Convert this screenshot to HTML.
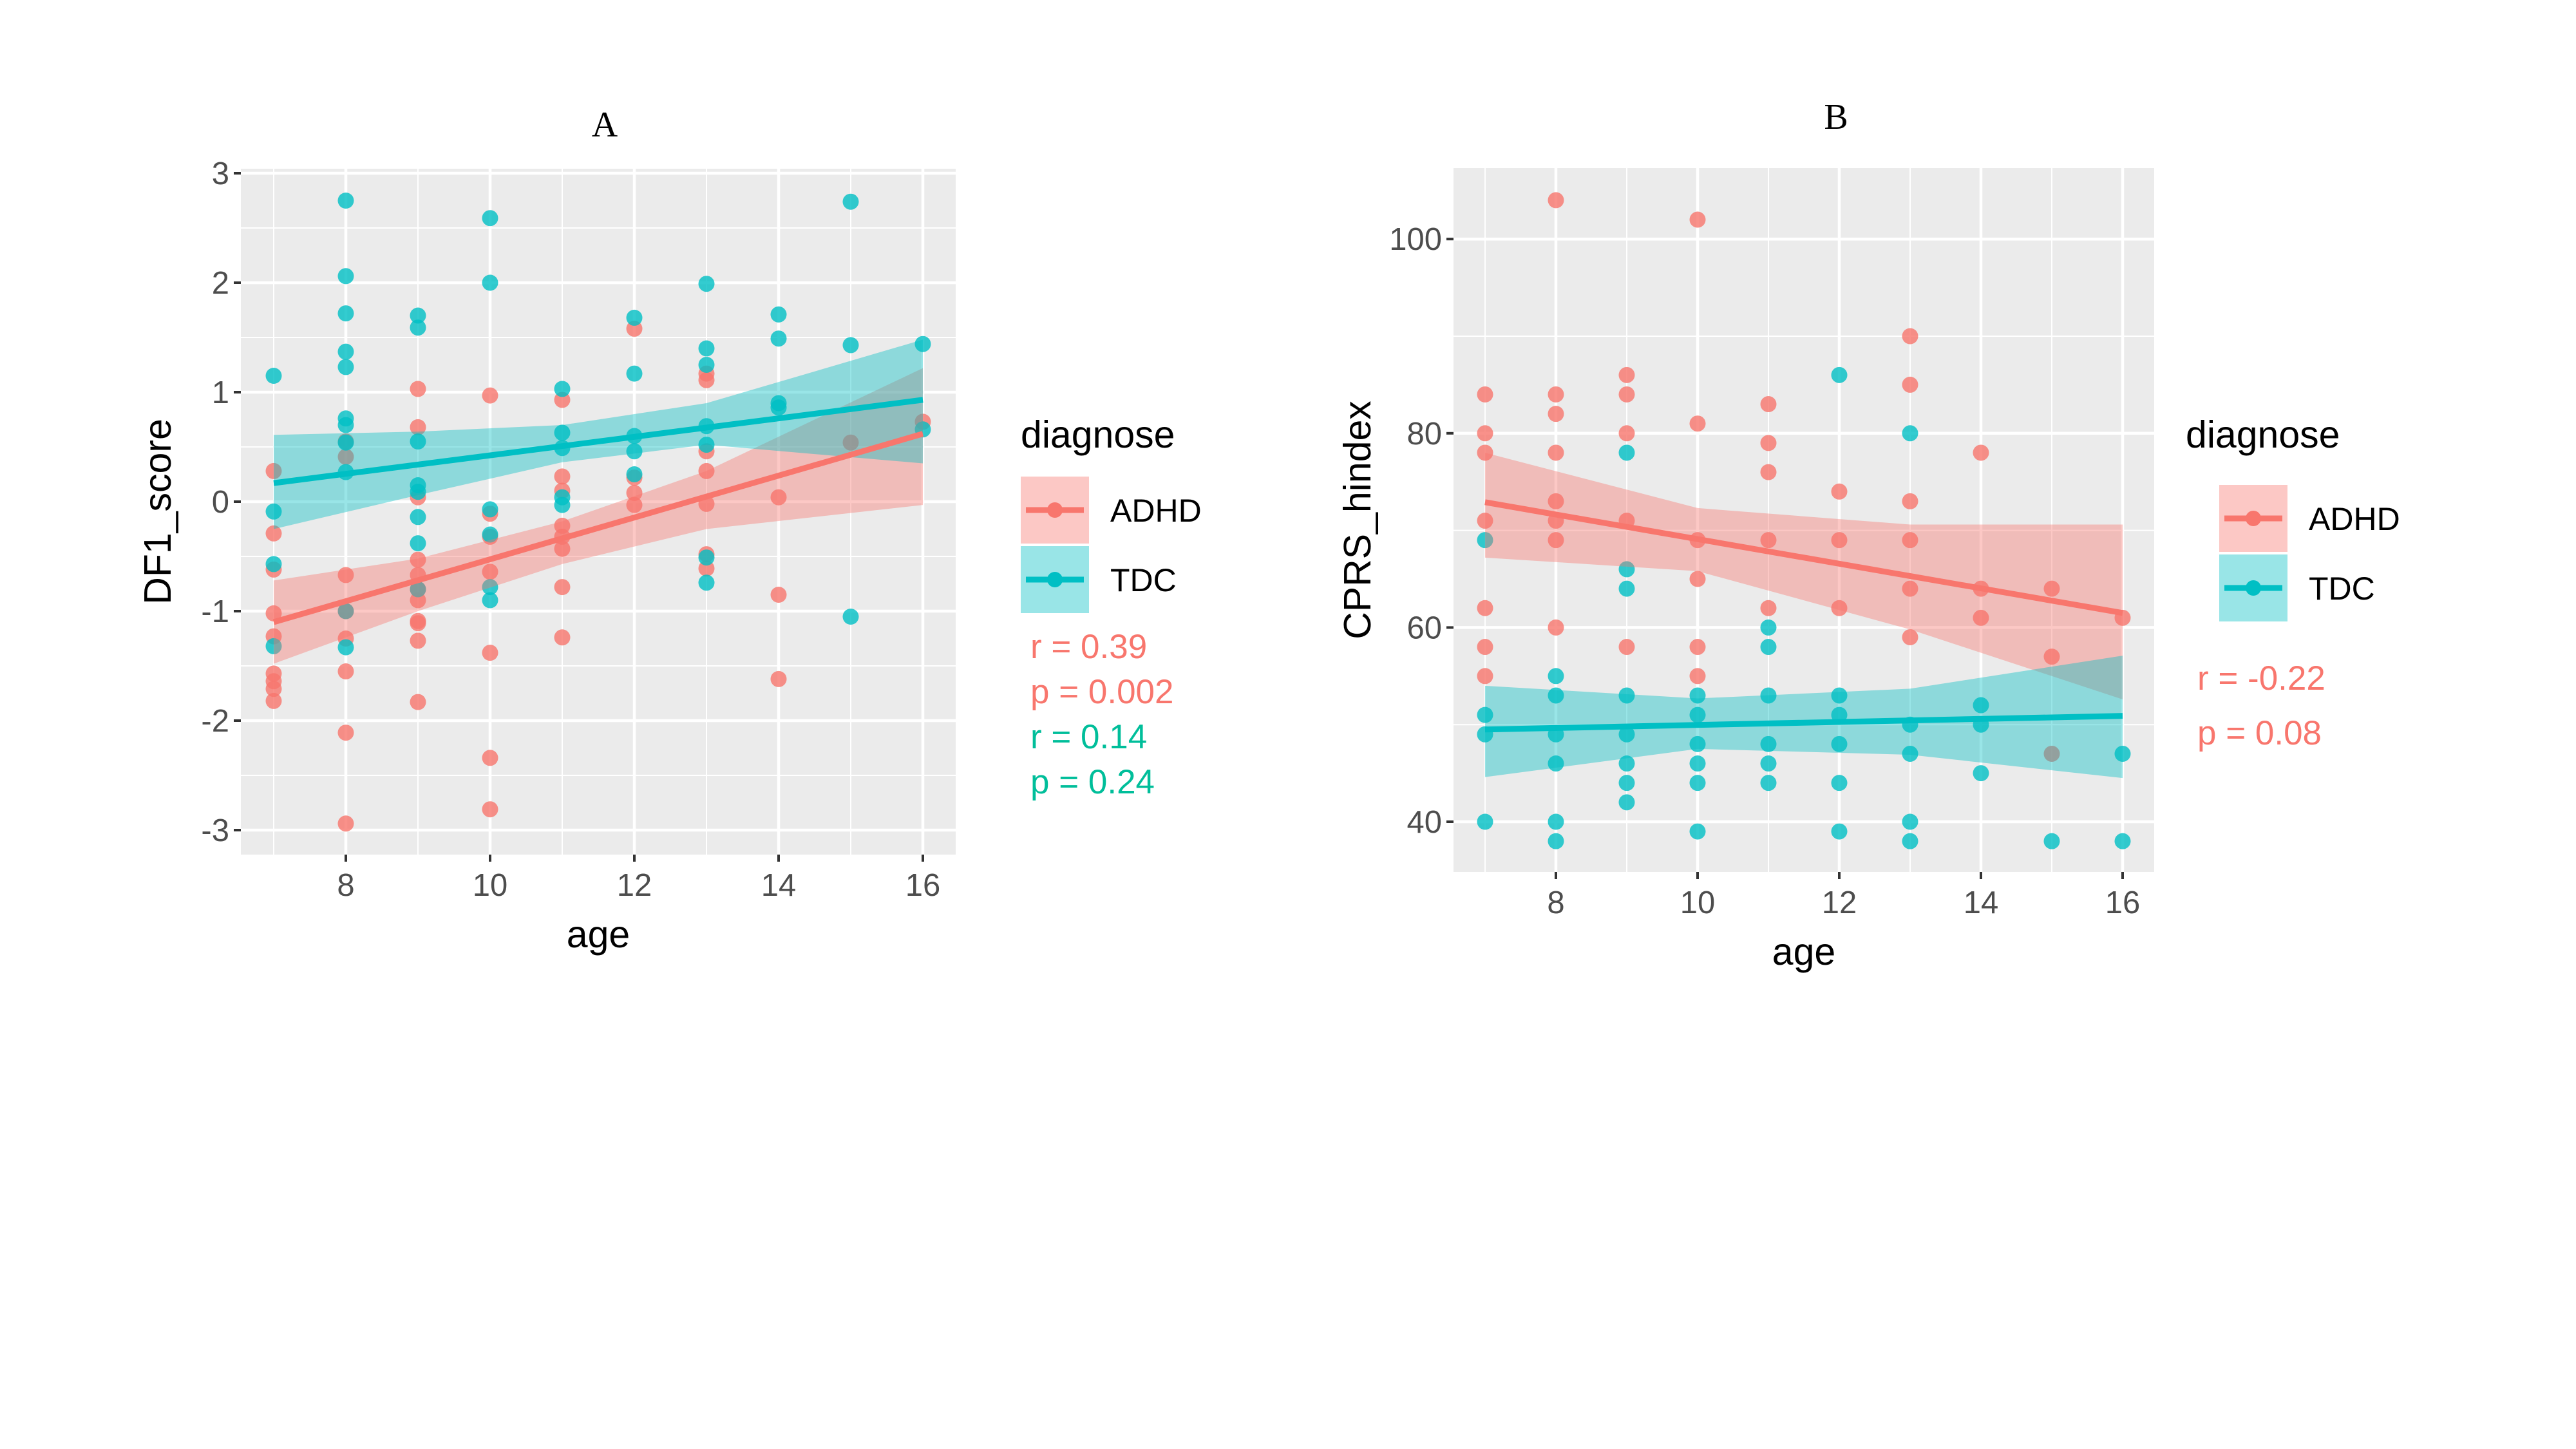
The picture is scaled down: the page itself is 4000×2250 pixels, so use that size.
<!DOCTYPE html>
<html><head><meta charset="utf-8"><style>
html,body{margin:0;padding:0;background:#fff}
svg{display:block;font-family:"Liberation Sans",sans-serif}
</style></head><body>
<svg id="s" width="4000" height="2250" viewBox="0 0 4000 2250"></svg>
<script>
// ---- Data panel A (DF1_score) ----
const ageTicks=[8,10,12,14,16];
const aYTicks=[-3,-2,-1,0,1,2,3];
const bYTicks=[40,60,80,100];
const aAdhd=[[7,0.28],[7,-0.29],[7,-0.62],[7,-1.02],[7,-1.23],[7,-1.57],[7,-1.64],[7,-1.71],[7,-1.82],
[8,0.41],[8,0.55],[8,-0.67],[8,-1.0],[8,-1.25],[8,-1.55],[8,-2.11],[8,-2.94],
[9,1.03],[9,0.68],[9,0.04],[9,-0.53],[9,-0.67],[9,-0.8],[9,-0.9],[9,-1.09],[9,-1.11],[9,-1.27],[9,-1.83],
[10,0.97],[10,-0.11],[10,-0.32],[10,-0.64],[10,-1.38],[10,-2.34],[10,-2.81],
[11,0.93],[11,0.23],[11,0.1],[11,-0.22],[11,-0.32],[11,-0.43],[11,-0.78],[11,-1.24],
[12,1.58],[12,0.22],[12,0.08],[12,-0.03],
[13,1.17],[13,1.11],[13,0.46],[13,0.28],[13,-0.02],[13,-0.48],[13,-0.61],
[14,0.04],[14,-0.85],[14,-1.62],[15,0.54],[16,0.73]];
const aTdc=[[7,1.15],[7,-0.09],[7,-0.57],[7,-1.32],
[8,2.75],[8,2.06],[8,1.72],[8,1.37],[8,1.23],[8,0.76],[8,0.70],[8,0.54],[8,0.27],[8,-1.0],[8,-1.33],
[9,1.70],[9,1.59],[9,0.55],[9,0.15],[9,0.09],[9,-0.14],[9,-0.38],[9,-0.8],
[10,2.59],[10,2.0],[10,-0.07],[10,-0.3],[10,-0.78],[10,-0.9],
[11,1.03],[11,0.63],[11,0.49],[11,0.04],[11,-0.03],
[12,1.68],[12,1.17],[12,0.60],[12,0.46],[12,0.25],
[13,1.99],[13,1.40],[13,1.25],[13,0.69],[13,0.52],[13,-0.51],[13,-0.74],
[14,1.71],[14,1.49],[14,0.90],[14,0.86],[15,2.74],[15,1.43],[15,-1.05],[16,1.44],[16,0.66]];
const aAdhdFit=[[7,-1.1],[16,0.62]];
const aAdhdCI=[[7,-1.48,-0.72],[9,-1.0,-0.52],[11,-0.57,-0.18],[13,-0.25,0.28],[16,-0.03,1.22]];
const aTdcFit=[[7,0.17],[16,0.93]];
const aTdcCI=[[7,-0.25,0.61],[9,0.06,0.64],[11,0.36,0.7],[13,0.52,0.9],[16,0.35,1.48]];
// ---- Data panel B (CPRS_hindex) ----
const bAdhd=[[7,84],[7,80],[7,78],[7,71],[7,62],[7,58],[7,55],
[8,104],[8,84],[8,82],[8,78],[8,73],[8,71],[8,69],[8,60],
[9,86],[9,84],[9,80],[9,71],[9,58],
[10,102],[10,81],[10,69],[10,65],[10,58],[10,55],
[11,83],[11,79],[11,76],[11,69],[11,62],
[12,74],[12,69],[12,62],
[13,90],[13,85],[13,73],[13,69],[13,64],[13,59],
[14,78],[14,64],[14,61],[15,64],[15,57],[15,47],[16,61]];
const bTdc=[[7,69],[7,51],[7,49],[7,40],
[8,55],[8,53],[8,49],[8,46],[8,40],[8,38],
[9,78],[9,66],[9,64],[9,53],[9,49],[9,46],[9,44],[9,42],
[10,53],[10,51],[10,48],[10,46],[10,44],[10,39],
[11,60],[11,58],[11,53],[11,48],[11,46],[11,44],
[12,86],[12,53],[12,51],[12,48],[12,44],[12,39],
[13,80],[13,50],[13,47],[13,40],[13,38],
[14,52],[14,50],[14,45],[15,38],[16,47],[16,38]];
const bAdhdFit=[[7,72.9],[16,61.5]];
const bAdhdCI=[[7,67.2,78],[10,65.8,72.3],[13,59.8,70.6],[16,52.6,70.6]];
const bTdcFit=[[7,49.5],[16,50.9]];
const bTdcCI=[[7,44.6,54],[10,47.5,52.7],[13,46.9,53.7],[16,44.5,57.1]];

const NS="http://www.w3.org/2000/svg";
const svg=document.getElementById('s');
const RED="#F8766D",TEAL="#00BFC4";
function mk(tag,attrs,parent,txt){const e=document.createElementNS(NS,tag);for(const k in attrs)e.setAttribute(k,attrs[k]);if(txt!==undefined)e.textContent=txt;(parent||svg).appendChild(e);return e;}

function panel(P){
  const g=mk('g',{});
  
  
  const X=v=>P.x0+(v-P.ax0)*P.xs, Y=v=>P.y0-(v-P.ay0)*P.ys;
  const bg=mk('rect',{x:P.L,y:P.T,width:P.R-P.L,height:P.B-P.T,fill:'#EBEBEB'},g);
  
  for(const v of [7,9,11,13,15]) mk('line',{x1:X(v),x2:X(v),y1:P.T,y2:P.B,stroke:'#fff','stroke-width':2},g);
  for(const v of P.minorY) mk('line',{x1:P.L,x2:P.R,y1:Y(v),y2:Y(v),stroke:'#fff','stroke-width':2},g);
  for(const v of ageTicks) mk('line',{x1:X(v),x2:X(v),y1:P.T,y2:P.B,stroke:'#fff','stroke-width':4.5},g);
  for(const v of P.yTicks) mk('line',{x1:P.L,x2:P.R,y1:Y(v),y2:Y(v),stroke:'#fff','stroke-width':4.5},g);
  for(const [data,col,nm] of [[P.adhd,RED,'adhd-point'],[P.tdc,TEAL,'tdc-point']]){
    for(const d of data){const c=mk('circle',{cx:X(d[0]),cy:Y(d[1]),r:12.5,fill:col,'fill-opacity':0.8},g);
      }
  }
  for(const [ci,fit,col,nm] of [[P.adhdCI,P.adhdFit,RED,'adhd'],[P.tdcCI,P.tdcFit,TEAL,'tdc']]){
    const up=ci.map(c=>X(c[0])+','+Y(c[2])), lo=ci.slice().reverse().map(c=>X(c[0])+','+Y(c[1]));
    const pg=mk('polygon',{points:up.concat(lo).join(' '),fill:col,'fill-opacity':0.4},g);
    
  }
  for(const [fit,col,nm] of [[P.adhdFit,RED,'adhd'],[P.tdcFit,TEAL,'tdc']]){
    const l=mk('line',{x1:X(fit[0][0]),y1:Y(fit[0][1]),x2:X(fit[1][0]),y2:Y(fit[1][1]),stroke:col,'stroke-width':9},g);
    
  }
  for(const v of ageTicks){mk('line',{x1:X(v),x2:X(v),y1:P.B,y2:P.B+11,stroke:'#333','stroke-width':4},g);
    const t=mk('text',{x:X(v),y:P.B+64,'font-size':49,fill:'#4D4D4D','text-anchor':'middle'},g,String(v));
    }
  for(const v of P.yTicks){mk('line',{x1:P.L-11,x2:P.L,y1:Y(v),y2:Y(v),stroke:'#333','stroke-width':4},g);
    const t=mk('text',{x:P.L-18,y:Y(v)+17,'font-size':49,fill:'#4D4D4D','text-anchor':'end'},g,String(v));
    }
  const xt=mk('text',{x:(P.L+P.R)/2,y:P.B+144,'font-size':59,fill:'#000','text-anchor':'middle'},g,'age');
  
  const yt=mk('text',{x:0,y:0,'font-size':59,fill:'#000','text-anchor':'middle',transform:`translate(${P.ytx},${(P.T+P.B)/2}) rotate(-90)`},g,P.ylab);
  
  const tt=mk('text',{x:P.titleX,y:P.titleY,'font-size':56,fill:'#000','text-anchor':'middle','font-family':'Liberation Serif, serif'},g,P.title);
  
  const lg=mk('g',{},g);
  mk('text',{x:P.lx,y:P.ly,'font-size':59,fill:'#000'},lg,'diagnose');
  const keys=[[RED,'ADHD'],[TEAL,'TDC']];
  keys.forEach((k,i)=>{const ky=P.ky+i*P.kstep;
    const e=mk('g',{},lg);
    mk('rect',{x:P.kx,y:ky,width:106,height:104,fill:k[0],'fill-opacity':0.4},e);
    mk('line',{x1:P.kx+8,x2:P.kx+98,y1:ky+52,y2:ky+52,stroke:k[0],'stroke-width':9},e);
    mk('circle',{cx:P.kx+53,cy:ky+52,r:12,fill:k[0]},e);
    mk('text',{x:P.kx+139,y:ky+70,'font-size':50,fill:'#000'},e,k[1]);});
  P.stats.forEach((s,i)=>{const t=mk('text',{x:P.sx,y:P.sy+i*P.sstep,'font-size':53,fill:s[1]},g,s[0]);
    });
}
panel({name:'panel-a',L:374,R:1484,T:262,B:1327,x0:425,ax0:7,xs:112,y0:1289,ay0:-3,ys:170,
  yTicks:aYTicks,minorY:[-2.5,-1.5,-0.5,0.5,1.5,2.5],adhd:aAdhd,tdc:aTdc,adhdFit:aAdhdFit,adhdCI:aAdhdCI,tdcFit:aTdcFit,tdcCI:aTdcCI,
  ylab:'DF1_score',ytx:265,title:'A',titleX:939,titleY:212,lx:1585,ly:695,kx:1585,ky:740,kstep:108,
  stats:[['r = 0.39',RED],['p = 0.002',RED],['r = 0.14','#00BE9A'],['p = 0.24','#00BE9A']],sx:1600,sy:1022,sstep:70});
panel({name:'panel-b',L:2257,R:3345,T:261,B:1354,x0:2306,ax0:7,xs:110,y0:1276,ay0:40,ys:15.08,
  yTicks:bYTicks,minorY:[50,70,90],adhd:bAdhd,tdc:bTdc,adhdFit:bAdhdFit,adhdCI:bAdhdCI,tdcFit:bTdcFit,tdcCI:bTdcCI,
  ylab:'CPRS_hindex',ytx:2128,title:'B',titleX:2851,titleY:200,lx:3394,ly:695,kx:3446,ky:753,kstep:108,
  stats:[['r = -0.22',RED],['p = 0.08',RED]],sx:3412,sy:1071,sstep:85});
</script>
</body></html>
